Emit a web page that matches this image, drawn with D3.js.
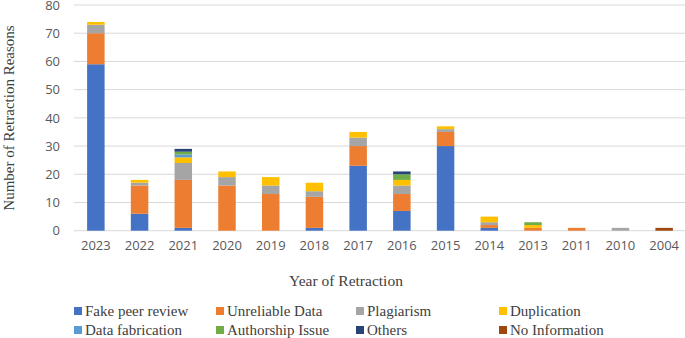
<!DOCTYPE html>
<html>
<head>
<meta charset="utf-8">
<script src="https://cdn.jsdelivr.net/npm/d3@7"></script>
<style>
  html, body { margin: 0; padding: 0; background: #fff; }
  svg { display: block; }
</style>
</head>
<body>
<svg id="chart" width="685" height="338"></svg>
<script>
// Retraction reasons per year (stacked counts)
const years = ["2023","2022","2021","2020","2019","2018","2017","2016","2015","2014","2013","2011","2010","2004"];
const reasons = ["Fake peer review","Unreliable Data","Plagiarism","Duplication","Data fabrication","Authorship Issue","Others","No Information"];
const colors = ["#4472C4","#ED7D31","#A5A5A5","#FFC000","#5B9BD5","#70AD47","#264478","#9E480E"];

const fakePeerReview  = [59, 6, 1, 0, 0, 1, 23, 7, 30, 1, 0, 0, 0, 0];
const unreliableData  = [11,10,17,16,13,11, 7, 6,  5, 1, 1, 1, 0, 0];
const plagiarism      = [ 3, 1, 6, 3, 3, 2, 3, 3,  1, 1, 0, 0, 1, 0];
const duplication     = [ 1, 1, 2, 2, 3, 3, 2, 2,  1, 2, 1, 0, 0, 0];
const dataFabrication = [ 0, 0, 1, 0, 0, 0, 0, 0,  0, 0, 0, 0, 0, 0];
const authorshipIssue = [ 0, 0, 1, 0, 0, 0, 0, 2,  0, 0, 1, 0, 0, 0];
const others          = [ 0, 0, 1, 0, 0, 0, 0, 1,  0, 0, 0, 0, 0, 0];
const noInformation   = [ 0, 0, 0, 0, 0, 0, 0, 0,  0, 0, 0, 0, 0, 1];
const yTicks = [0,10,20,30,40,50,60,70,80];

const seriesValues = [fakePeerReview, unreliableData, plagiarism, duplication,
                      dataFabrication, authorshipIssue, others, noInformation];

const rows = years.map((y, i) => {
  const r = { year: y };
  reasons.forEach((k, j) => { r[k] = seriesValues[j][i]; });
  return r;
});

const svg = d3.select("#chart");
const plot = { left: 74, right: 686, top: 5, bottom: 230.7 };

const x = d3.scaleBand().domain(years).range([plot.left, plot.right]).paddingInner(0.6).paddingOuter(0.3);
const y = d3.scaleLinear().domain([0, 80]).range([plot.bottom, plot.top]);

// gridlines
svg.append("g")
  .selectAll("line")
  .data(yTicks)
  .join("line")
  .attr("x1", plot.left).attr("x2", 685)
  .attr("y1", d => y(d)).attr("y2", d => y(d))
  .attr("stroke", "#d9d9d9").attr("stroke-width", 1);

// y axis labels
const yAxis = svg.append("g")
  .attr("transform", `translate(${plot.left - 14},0)`)
  .call(d3.axisLeft(y).tickValues(yTicks).tickSize(0).tickPadding(0));
yAxis.select(".domain").remove();
yAxis.selectAll("text")
  .attr("font-family", "'Open Sans', sans-serif")
  .attr("font-size", 13)
  .attr("fill", "#595959");

// stacked bars
const stack = d3.stack().keys(reasons)(rows);
svg.append("g")
  .selectAll("g")
  .data(stack)
  .join("g")
  .attr("fill", (d, i) => colors[i])
  .selectAll("rect")
  .data(d => d.filter(s => s[1] - s[0] > 0))
  .join("rect")
  .attr("x", d => x(d.data.year))
  .attr("width", x.bandwidth())
  .attr("y", d => y(d[1]))
  .attr("height", d => y(d[0]) - y(d[1]));

// x axis labels
const xAxis = svg.append("g")
  .attr("transform", `translate(0,${plot.bottom + 10})`)
  .call(d3.axisBottom(x).tickSize(0).tickPadding(0));
xAxis.select(".domain").remove();
xAxis.selectAll("text")
  .attr("font-family", "'Open Sans', sans-serif")
  .attr("font-size", 13)
  .attr("fill", "#595959");

// axis titles
svg.append("text")
  .attr("x", 346).attr("y", 286)
  .attr("text-anchor", "middle")
  .attr("font-family", "'Liberation Serif', 'Times New Roman', serif")
  .attr("font-size", 15.5).attr("fill", "#404040")
  .text("Year of Retraction");

svg.append("text")
  .attr("transform", "translate(14,118) rotate(-90)")
  .attr("text-anchor", "middle")
  .attr("font-family", "'Liberation Serif', 'Times New Roman', serif")
  .attr("font-size", 15).attr("fill", "#404040")
  .text("Number of Retraction Reasons");

// legend
const legendX = [74, 216, 356, 499];
const legendY = [311, 330];
const legend = svg.append("g")
  .selectAll("g")
  .data(reasons)
  .join("g")
  .attr("transform", (d, i) => `translate(${legendX[i % 4]},${legendY[Math.floor(i / 4)]})`);
legend.append("rect")
  .attr("x", 0).attr("y", -4).attr("width", 8).attr("height", 8)
  .attr("fill", (d, i) => colors[i]);
legend.append("text")
  .attr("x", 11).attr("y", 5)
  .attr("font-family", "'Liberation Serif', 'Times New Roman', serif")
  .attr("font-size", 15).attr("fill", "#404040")
  .text(d => d);
</script>
</body>
</html>
